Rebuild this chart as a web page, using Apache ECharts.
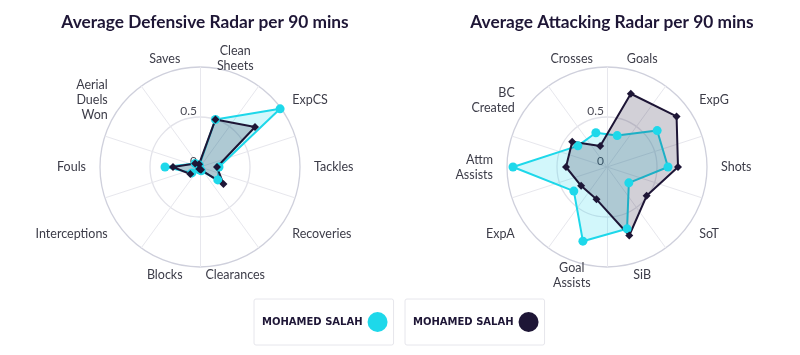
<!DOCTYPE html>
<html>
<head>
<meta charset="utf-8">
<script src="https://cdn.jsdelivr.net/npm/echarts@6/dist/echarts.min.js"></script>
<style>
html,body{margin:0;padding:0;background:#fff;}
#chart{width:800px;height:355px;}
</style>
</head>
<body>
<div id="chart"></div>
<script>
// ---- data (clockwise order, starting just right of the top) ----
const defCategories = ['Clean\nSheets', 'ExpCS', 'Tackles', 'Recoveries', 'Clearances', 'Blocks', 'Interceptions', 'Fouls', 'Aerial\nDuels\nWon', 'Saves'];
const defCyan = [0.50, 0.99, 0.19, 0.22, 0.04, 0.03, 0.10, 0.35, 0.06, 0.02];
const defDark = [0.50, 0.68, 0.17, 0.29, 0.03, 0.02, 0.12, 0.27, 0.06, 0.03];

const attCategories = ['Goals', 'ExpG', 'Shots', 'SoT', 'SiB', 'Goal\nAssists', 'ExpA', 'Attm\nAssists', 'BC\nCreated', 'Crosses'];
const attCyan = [0.33, 0.62, 0.61, 0.27, 0.65, 0.78, 0.41, 0.94, 0.36, 0.36];
const attDark = [0.77, 0.86, 0.71, 0.49, 0.72, 0.34, 0.32, 0.41, 0.43, 0.22];

const titles = ['Average Defensive Radar per 90 mins', 'Average Attacking Radar per 90 mins'];
const playerName = 'MOHAMED SALAH';
const axisMax = 1;

// ---- styling ----
const CYAN = '#1ed8ea';
const DARK = '#1e1636';
const FONT = 'Lato, "Noto Sans", sans-serif';
const centers = [[200, 167], [607, 167]];
const R = 100;

// radar lays indicators counter-clockwise; convert clockwise lists
function ccw(arr) { return [arr[0]].concat(arr.slice(1).reverse()); }

function dataIndicators(cats) {
  return ccw(cats.map(function (c, i) {
    const centred = (i === 0 || i === 4 || i === 5 || i === 9);
    const ind = { name: c, min: 0, max: axisMax };
    if (centred) ind.nameTextStyle = { align: 'center' };
    return ind;
  }));
}
function gridIndicators(n) {
  const out = [];
  for (let i = 0; i < n; i++) {
    const ind = { name: '', min: 0, max: axisMax };
    if (i === 0) ind.axisLabel = { show: true };
    out.push(ind);
  }
  return out;
}

function gridRadar(center) {
  return {
    center: center, radius: R, startAngle: 90, shape: 'circle', splitNumber: 2,
    indicator: gridIndicators(10),
    axisName: { show: false },
    axisLine: { lineStyle: { color: '#e7e7ed', width: 1 } },
    splitLine: { lineStyle: { color: ['#cfd0dc', '#e2e2e9'], width: 1.3 } },
    splitArea: { show: false },
    axisTick: { show: false },
    axisLabel: {
      show: false, margin: 3, verticalAlign: 'bottom', color: '#4a4a55', fontSize: 12, fontFamily: FONT,
      formatter: function (v) { return v >= axisMax ? '' : String(v); }
    }
  };
}
function dataRadar(center, cats) {
  return {
    center: center, radius: R, startAngle: 72, shape: 'circle', splitNumber: 2,
    indicator: dataIndicators(cats),
    nameGap: 14,
    axisName: { color: '#3c3c48', fontSize: 12.5, fontFamily: FONT, lineHeight: 15 },
    axisLine: { show: false },
    splitLine: { show: false },
    splitArea: { show: false },
    axisTick: { show: false },
    axisLabel: { show: false }
  };
}
function series(radarIndex, values, color, symbol, size) {
  return {
    type: 'radar', radarIndex: radarIndex, name: playerName,
    symbol: symbol, symbolSize: size,
    lineStyle: { color: color, width: 2 },
    itemStyle: { color: color },
    areaStyle: { color: color, opacity: 0.2 },
    data: [{ value: ccw(values), name: playerName }]
  };
}
function legend(left, color) {
  return {
    left: left, top: 299, orient: 'horizontal', align: 'right', icon: 'circle',
    itemWidth: 20, itemHeight: 20, padding: [13, 6, 13, 8],
    borderColor: '#e6e6ec', borderWidth: 1, borderRadius: 2,
    selectedMode: false,
    textStyle: { color: DARK, fontWeight: 'bold', fontSize: 10, fontFamily: '"DejaVu Sans", sans-serif' },
    data: [{ name: playerName, itemStyle: { color: color } }]
  };
}

const chart = echarts.init(document.getElementById('chart'), null, { renderer: 'canvas' });
chart.setOption({
  animation: false,
  backgroundColor: '#fff',
  title: titles.map(function (t, i) {
    return { text: t, left: centers[i][0], top: 9, textAlign: 'center',
      textStyle: { color: DARK, fontSize: 17.3, fontWeight: 'bold', fontFamily: FONT } };
  }),
  radar: [
    gridRadar(centers[0]), dataRadar(centers[0], defCategories),
    gridRadar(centers[1]), dataRadar(centers[1], attCategories)
  ],
  legend: [legend(254, CYAN), legend(405, DARK)],
  series: [
    series(1, defCyan, CYAN, 'circle', 9),
    series(1, defDark, DARK, 'diamond', 8),
    series(3, attCyan, CYAN, 'circle', 9),
    series(3, attDark, DARK, 'diamond', 8)
  ]
});
</script>
</body>
</html>
